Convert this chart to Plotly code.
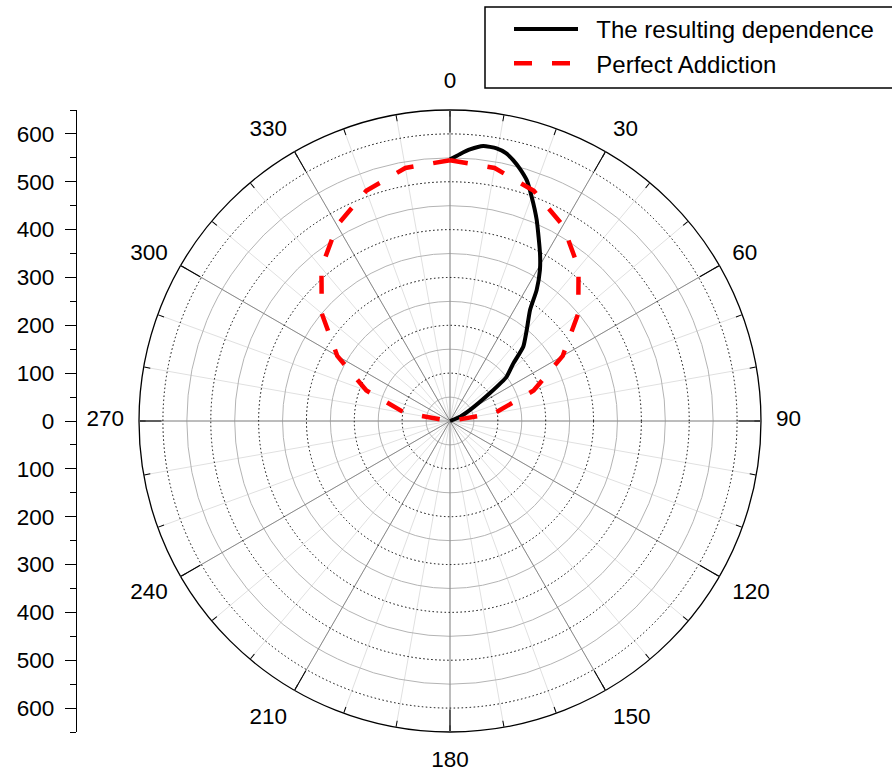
import plotly.graph_objects as go

# Data
res_theta = [0, 2.1, 4.2, 6.9, 9.7, 11.8, 13.6, 15.5, 17.7, 20, 23.3, 28.2, 30.8,
             33.5, 35.8, 40.1, 44.6, 47.7, 52, 55, 61, 67, 70]
res_r = [547, 558, 569, 579, 578, 572, 561, 547, 528, 499, 458, 398, 367,
         328, 286, 249, 218, 179, 150, 102, 48, 23, 0]

ideal_theta = [0, 10, 20, 30, 40, 50, 60, 70, 80, 90,
               270, 280, 290, 300, 310, 320, 330, 340, 350, 360]
ideal_r = [545, 537, 512, 472, 418, 350, 272, 186, 95, 0,
           0, 95, 186, 272, 350, 418, 472, 512, 537, 545]

angle_ticks = [0, 30, 60, 90, 120, 150, 180, 210, 240, 270, 300, 330]
left_tickvals = [-600, -500, -400, -300, -200, -100, 0, 100, 200, 300, 400, 500, 600]
left_ticktext = ["600", "500", "400", "300", "200", "100", "0", "100", "200", "300", "400", "500", "600"]

R_MAX = 650
FONT = "Liberation Sans, Arial, sans-serif"
W, H = 892, 773
dom_x = [139 / W, 761 / W]
dom_y = [1 - 732 / H, 1 - 110 / H]
lab_shift = 3 / H
dom_y_lab = [dom_y[0] + lab_shift, dom_y[1] + lab_shift]
NB = "\u00a0\u00a0"
TF = dict(family=FONT, size=22.5, color="black")

fig = go.Figure()

# invisible trace to create the left linear scale
fig.add_trace(go.Scatter(x=[0, 0], y=[-R_MAX, R_MAX], mode="markers",
                         marker=dict(opacity=0), showlegend=False, hoverinfo="skip"))
# invisible anchors so the grid / label layers are drawn
for sp in ["polar", "polar3"]:
    fig.add_trace(go.Scatterpolar(r=[0], theta=[0], mode="markers", subplot=sp,
                                  marker=dict(opacity=0), showlegend=False, hoverinfo="skip"))

fig.add_trace(go.Scatterpolar(theta=res_theta, r=res_r, mode="lines", subplot="polar2",
                              name=NB + "The resulting dependence", legendgroup="a",
                              line=dict(color="black", width=4, shape="spline", smoothing=0.5)))
fig.add_trace(go.Scatterpolar(theta=ideal_theta, r=ideal_r, mode="lines", subplot="polar2",
                              name=NB + "Perfect Addiction", legendgroup="b",
                              line=dict(color="#ff0000", width=4.5, dash="18px,20px")))

common_ang = dict(rotation=90, direction="clockwise", tickmode="linear", tick0=0)

fig.update_layout(
    width=W, height=H,
    margin=dict(l=0, r=0, t=0, b=0),
    paper_bgcolor="white", plot_bgcolor="white",
    font=dict(family=FONT, color="black", size=22.5),
    showlegend=True,
    legend=dict(x=509 / W, y=1 - 7 / H, xanchor="left", yanchor="top",
                bgcolor="rgba(0,0,0,0)", borderwidth=0,
                font=dict(size=24, family=FONT), itemwidth=64, tracegroupgap=0),
    shapes=[dict(type="rect", xref="paper", yref="paper",
                 x0=485 / W, x1=1.02, y0=1 - 88 / H, y1=1 - 7 / H,
                 line=dict(color="black", width=1.5), fillcolor="rgba(0,0,0,0)")],
    xaxis=dict(visible=False, domain=[0.0, 0.05], range=[-1, 1]),
    yaxis=dict(domain=dom_y, range=[-R_MAX, R_MAX], anchor="free", position=76 / W,
               side="left", showline=True, linecolor="black", linewidth=1.3,
               showgrid=False, zeroline=False, ticks="outside", ticklen=11,
               tickcolor="black", tickwidth=1.3,
               tickmode="array", tickvals=left_tickvals, ticktext=left_ticktext,
               ticklabelstandoff=6, tickfont=TF,
               minor=dict(tickmode="array",
                          tickvals=[-650, -550, -450, -350, -250, -150, -50,
                                    50, 150, 250, 350, 450, 550, 650],
                          ticks="outside", ticklen=6, tickcolor="black", tickwidth=1.3)),
    # bottom: fine grid, minor angular ticks, outer circle
    polar=dict(
        domain=dict(x=dom_x, y=dom_y), bgcolor="white",
        radialaxis=dict(range=[0, R_MAX], showticklabels=False, ticks="", showline=False,
                        tickmode="array", tickvals=[50, 150, 250, 350, 450, 550],
                        showgrid=True, gridcolor="#b4b4b4", gridwidth=1),
        angularaxis=dict(**common_ang, dtick=10, showticklabels=False, ticks="inside",
                         ticklen=6, tickcolor="black", tickwidth=1,
                         showgrid=True, gridcolor="#e0e0e0", gridwidth=1,
                         showline=True, linecolor="black", linewidth=1.3),
    ),
    # middle: dotted circles, major spokes, major ticks and the data
    polar2=dict(
        domain=dict(x=dom_x, y=dom_y), bgcolor="rgba(0,0,0,0)",
        radialaxis=dict(range=[0, R_MAX], showticklabels=False, ticks="", showline=False,
                        tickmode="array", tickvals=[100, 200, 300, 400, 500, 600],
                        showgrid=True, gridcolor="black", gridwidth=1, griddash="1.5px,2.5px"),
        angularaxis=dict(**common_ang, dtick=30, showticklabels=False, ticks="inside",
                         ticklen=22, tickcolor="black", tickwidth=1.2,
                         showgrid=True, gridcolor="#8a8a8a", gridwidth=1.2,
                         showline=False),
    ),
    # top: angular labels
    polar3=dict(
        domain=dict(x=dom_x, y=dom_y_lab), bgcolor="rgba(0,0,0,0)",
        radialaxis=dict(range=[0, R_MAX], showticklabels=False, ticks="", showline=False,
                        showgrid=False),
        angularaxis=dict(rotation=90, direction="clockwise", tickmode="array",
                         tickvals=angle_ticks, ticktext=[str(a) for a in angle_ticks],
                         ticks="outside", ticklen=10, tickcolor="rgba(0,0,0,0)",
                         showgrid=False, showline=False, tickfont=TF),
    ),
)

fig.write_html("out.html")
